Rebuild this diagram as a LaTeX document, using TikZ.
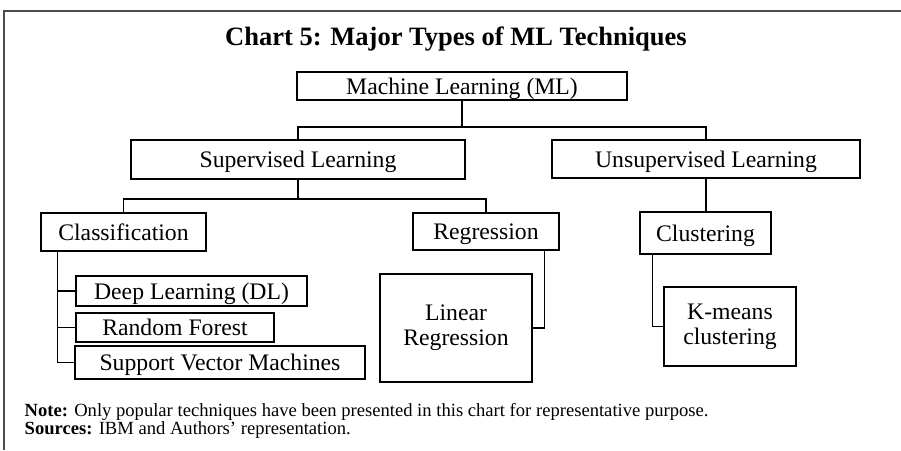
\documentclass[tikz,border=0pt]{standalone}
\usepackage{fontspec}
\setmainfont{Liberation Serif}

\begin{document}
\begin{tikzpicture}[x=1pt,y=-1pt,line width=1.4pt,inner sep=0pt,
    font=\fontsize{23.7}{25}\selectfont]
    \tikzstyle{box}=[draw,rectangle,align=center,text height=17pt,text depth=1pt]
    \tikzstyle{frame}=[black!70,line width=1.6pt]
    \tikzstyle{small}=[anchor=base west,font=\fontsize{18.6}{18}\selectfont]

    \useasboundingbox (0,0) rectangle (901,450);
    \draw[frame] (4,450) -- (4,11) -- (901,11);

    \node (title) at (456,39)
      {\fontsize{26.5}{28}\selectfont\bfseries Chart 5: Major Types of ML Techniques};

    % boxes
    \node[box,minimum width=330pt,minimum height=28pt]  (ml)     at (462,86)    {Machine Learning (ML)};
    \node[box,minimum width=334pt,minimum height=39pt]  (sup)    at (298,159.5) {Supervised Learning};
    \node[box,minimum width=308pt,minimum height=38pt]  (unsup)  at (706,159)   {Unsupervised Learning};
    \node[box,minimum width=165pt,minimum height=38pt]  (cls)    at (123.5,232) {Classification};
    \node[box,minimum width=146pt,minimum height=37pt]  (reg)    at (486,231.5) {Regression};
    \node[box,minimum width=131pt,minimum height=42pt]  (clu)    at (705.5,233) {Clustering};
    \node[box,minimum width=231pt,minimum height=30pt]  (dl)     at (191.5,291) {Deep Learning (DL)};
    \node[box,minimum width=198pt,minimum height=29pt]  (rf)     at (175,327.5) {Random Forest};
    \node[box,minimum width=290pt,minimum height=33pt]  (svm)    at (220,362.5) {Support Vector Machines};
    \node[box,minimum width=152pt,minimum height=108pt,text height=,text depth=] (linreg) at (456,328) {Linear\\Regression};
    \node[box,minimum width=132pt,minimum height=79pt,text height=,text depth=]  (kmeans) at (730,326.5) {K-means\\clustering};

    \coordinate (split1) at (462,127);
    \coordinate (split2) at (298,199);

    % connectors
    \draw (ml.south) -- (split1);
    \draw (sup.north) |- (split1) -| (unsup.north);
    \draw (sup.south) -- (split2);
    \draw (cls.north) |- (split2) -| (reg.north);
    \draw (unsup.south) -- (unsup.south |- clu.north);
    \draw ([xshift=17pt]cls.south west) |- (svm.west);
    \draw ([xshift=17pt]cls.south west) |- (dl.west);
    \draw ([xshift=17pt]cls.south west) |- (rf.west);
    \draw ([xshift=-15pt]reg.south east) |- (linreg.east);
    \draw ([xshift=13pt]clu.south west) |- (kmeans.west);

    \node[small] (note) at (24,416)
      {\textbf{Note:} Only popular techniques have been presented in this chart for representative purpose.};
    \node[small] (src)  at (24,434) {\textbf{Sources:} IBM and Authors’ representation.};
\end{tikzpicture}
\end{document}
